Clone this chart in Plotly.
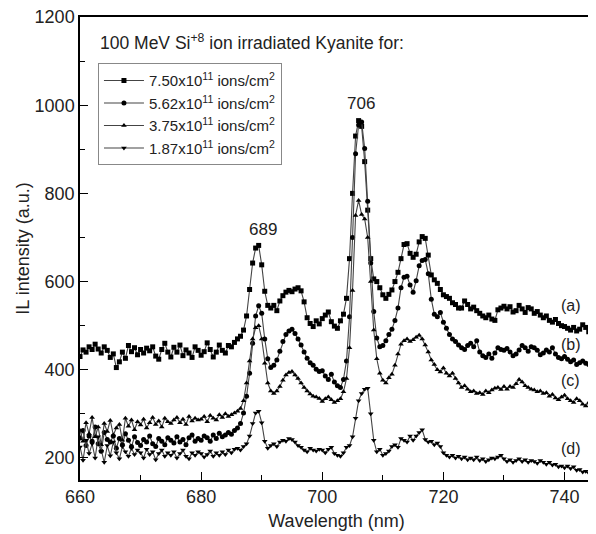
import plotly.graph_objects as go

# Wavelength sampling (nm)
wl_start = 660.0
wl_step = 0.5

series_names = [
    "7.50x10<sup>11</sup> ions/cm<sup>2</sup>",
    "5.62x10<sup>11</sup> ions/cm<sup>2</sup>",
    "3.75x10<sup>11</sup> ions/cm<sup>2</sup>",
    "1.87x10<sup>11</sup> ions/cm<sup>2</sup>",
]

il_a = [
    430, 445, 440, 452, 446, 458, 447, 438, 452, 444,
    428, 436, 405, 418, 440, 426, 455, 441, 450, 434,
    446, 438, 449, 443, 452, 431, 424, 446, 460, 440,
    429, 451, 440, 456, 432, 445, 438, 428, 452, 444,
    433, 441, 461, 446, 429, 440, 456, 444, 438, 455,
    452, 462, 470, 476, 490, 522, 582, 642, 676, 682,
    638, 578, 546, 540, 546, 534, 556, 568, 576, 580,
    577, 583, 586, 579, 554, 518, 505, 498, 511, 504,
    516, 524, 531, 509, 499, 494, 511, 526, 562, 652,
    800, 930, 965, 952, 872, 762, 652, 606, 600, 586,
    570, 562, 571, 581, 600, 621, 652, 684, 686, 664,
    655, 662, 690, 702, 698, 660, 615, 604, 596, 582,
    570, 566, 562, 552, 548, 540, 540, 556, 548, 538,
    542, 534, 528, 522, 518, 524, 515, 512, 536, 540,
    544, 538, 543, 531, 534, 546, 538, 530, 541, 538,
    528, 532, 524, 518, 522, 512, 508, 514, 505, 500,
    498, 494, 490, 496, 488, 492, 502, 496, 486, 484,
    480,
]

il_b = [
    245, 262, 228, 250, 238, 270, 232, 215, 258, 242,
    236, 250, 222, 244, 230, 255, 240, 226, 248, 235,
    228, 242, 236, 250, 232, 226, 244, 238, 230, 246,
    240, 234, 248, 236, 242, 230, 246, 252, 238, 244,
    240, 250, 246, 238, 252, 244, 256, 248, 252, 258,
    254, 262, 268, 278, 302, 340, 392, 460, 522, 545,
    528, 470, 425, 405, 410, 422, 442, 464, 480, 488,
    492, 482, 470, 456, 440, 426, 416, 410, 401, 396,
    398, 386, 378, 390, 372, 364, 360, 378, 420, 520,
    700, 890, 955, 962, 902, 782, 642, 532, 472, 452,
    455, 466, 480, 492, 512, 540, 586, 610, 612, 592,
    576, 602, 636, 648, 650, 618, 560, 526, 520, 530,
    508, 494, 480, 470, 464, 456, 450, 446, 455, 460,
    452, 466, 440, 432, 428, 436, 426, 438, 450, 446,
    444, 448, 440, 432, 436, 445, 455, 450, 442, 452,
    450, 444, 434, 438, 445, 440, 450, 436, 428, 425,
    430, 424, 418, 422, 412, 416, 420, 415, 412, 414,
    410,
]

il_c = [
    262, 238, 280, 255, 292, 248, 270, 230, 278, 260,
    285, 252, 268, 276, 240, 290, 272, 286, 264, 282,
    275, 288, 268, 280, 292, 276, 284, 270, 290, 282,
    278, 286, 292, 280, 288, 276, 294, 284, 290, 286,
    288, 294, 282, 296, 290, 286, 298, 292, 300, 294,
    298, 302, 306, 312, 330, 370, 420, 470, 495, 500,
    470, 415, 370, 352, 346, 352, 362, 376, 388, 394,
    396, 388, 380, 370, 360, 352, 345, 340, 338, 335,
    328, 334, 338, 332, 326, 330, 334, 350, 380, 450,
    580, 750, 784, 752, 742, 700, 600, 490, 425, 392,
    376, 370, 382, 390, 410, 436, 458, 466, 470, 464,
    468, 474, 478, 470, 456, 440, 422, 412, 400, 395,
    404, 392, 386, 392, 380, 370, 360, 364, 356, 350,
    352, 346, 348, 344, 352, 348, 354, 358, 360, 355,
    362, 356, 362, 360, 368, 378, 372, 364, 360, 356,
    354, 350, 352, 346, 348, 340, 344, 336, 332, 338,
    342, 334, 330, 326, 334, 330, 322, 318, 326, 318,
    312,
]

il_d = [
    225, 195, 240, 210, 232, 200, 248, 215, 190, 228,
    205, 236, 212, 198, 226, 214, 204, 222, 208, 218,
    212, 200, 220, 208, 214, 196, 210, 218, 204, 212,
    206, 214, 200, 210, 218, 204, 198, 212, 206, 214,
    210, 202, 208, 216, 204, 212, 206, 214, 208, 218,
    212, 220, 222, 218, 226, 232, 250, 278, 302, 306,
    280, 238, 222, 228, 232, 226, 236, 240, 238, 244,
    242, 236, 228, 224, 218, 214, 222, 218, 216, 220,
    218, 212, 220, 224, 210, 206, 204, 212, 224, 228,
    248, 290, 330, 346, 356, 358, 300, 240, 214, 220,
    206, 210, 216, 226, 230, 224, 244, 240, 236, 250,
    240, 250, 258, 264, 242, 236, 238, 230, 234, 226,
    212, 206, 202, 206, 200, 204, 198, 202, 196, 200,
    196, 202, 194, 198, 192, 196, 200, 198, 202, 206,
    198, 192, 196, 190, 194, 198, 192, 196, 190, 194,
    192, 188, 194, 190, 186, 190, 184, 186, 180, 182,
    178, 182, 176, 180, 172, 174, 168, 170, 166, 162,
    158,
]

series_values = [il_a, il_b, il_c, il_d]
symbols = ["square", "circle", "triangle-up", "triangle-down"]

curve_labels = ["(a)", "(b)", "(c)", "(d)"]
curve_label_x = [741, 741, 741, 741]
curve_label_y = [545, 457, 376, 222]

peak_labels = ["689", "706"]
peak_label_x = [690.2, 706.4]
peak_label_y = [718, 1004]

FONT = "Liberation Sans, Arial, Helvetica, sans-serif"

fig = go.Figure()
for name, vals, sym in zip(series_names, series_values, symbols):
    fig.add_trace(go.Scatter(
        x0=wl_start, dx=wl_step, y=vals, name=name,
        mode="lines+markers",
        line=dict(color="#444444", width=1.1),
        marker=dict(symbol=sym, size=5, color="black"),
    ))

for t, x, y in zip(curve_labels, curve_label_x, curve_label_y):
    fig.add_annotation(x=x, y=y, text=t, showarrow=False,
                       font=dict(size=16, color="#222", family=FONT))
for t, x, y in zip(peak_labels, peak_label_x, peak_label_y):
    fig.add_annotation(x=x, y=y, text=t, showarrow=False,
                       font=dict(size=17, color="#222", family=FONT))

fig.add_annotation(x=0.036, y=0.947, xref="paper", yref="paper",
                   xanchor="left", yanchor="middle", showarrow=False,
                   text="100 MeV Si<sup>+8</sup> ion irradiated Kyanite for:",
                   font=dict(size=17.5, color="#222", family=FONT))

axis_common = dict(
    showline=True, linecolor="black", linewidth=1.5, mirror=True,
    ticks="inside", ticklen=8, tickwidth=1.3, tickcolor="black",
    showgrid=False, zeroline=False, automargin=False,
    ticklabeloverflow="allow",
    tickfont=dict(size=18, color="#222", family=FONT),
)

fig.update_xaxes(
    range=[660, 744.7], dtick=20, tick0=660,
    minor=dict(ticks="inside", ticklen=5, dtick=10, tickcolor="black", showgrid=False),
    title=dict(text="Wavelength (nm)", font=dict(size=18, color="#222", family=FONT), standoff=8),
    **axis_common,
)
fig.update_yaxes(
    range=[150, 1200], dtick=200, tick0=200,
    minor=dict(ticks="inside", ticklen=5, dtick=100, tickcolor="black", showgrid=False),
    title=dict(text="IL intensity (a.u.)", font=dict(size=18, color="#222", family=FONT), standoff=0),
    **axis_common,
)

# The page body adds an 8px offset, so the figure is sized to fit the window.
fig.update_layout(
    width=588, height=526,
    margin=dict(l=72, r=3, t=9, b=54),
    plot_bgcolor="white", paper_bgcolor="white",
    showlegend=True,
    legend=dict(
        x=0.035, y=0.9, xanchor="left", yanchor="top",
        bordercolor="#888", borderwidth=1, bgcolor="white",
        font=dict(size=15, color="#222", family=FONT),
        tracegroupgap=0, itemwidth=40,
    ),
    font=dict(family=FONT),
)

fig.write_html("out.html")
